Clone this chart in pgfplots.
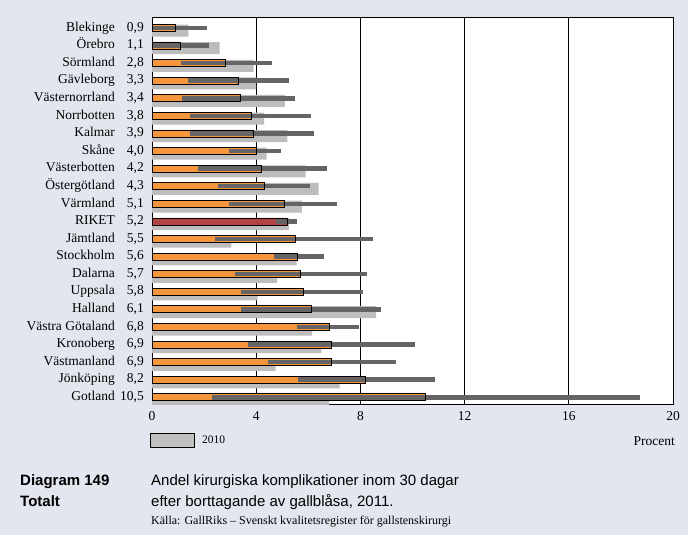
\documentclass[border=0pt]{standalone}
\usepackage{fontspec}
\setmainfont{Liberation Serif}
\newfontfamily\arial{Liberation Sans}
\usepackage{pgfplots}
\usepackage{pgfplotstable}
\pgfplotsset{compat=1.18}
\definecolor{bg}{HTML}{E3E6EE}
\definecolor{orangebar}{HTML}{F5963C}
\definecolor{riket}{HTML}{B34342}
\definecolor{gray10}{HTML}{BDBDBD}
\definecolor{cigray}{HTML}{666464}
\definecolor{leggray}{HTML}{C0C0C0}

\pgfplotstableread{
i val g lo hi
0 0.9 1.4 0.0 2.1
1 1.1 2.6 0.0 2.2
2 2.8 3.9 1.1 4.6
3 3.3 4.0 1.4 5.25
4 3.4 5.1 1.15 5.5
5 3.8 4.3 1.45 6.1
6 3.9 5.2 1.45 6.2
7 4.0 4.4 2.95 4.95
8 4.2 5.9 1.75 6.7
9 4.3 6.4 2.55 6.05
10 5.1 5.75 2.95 7.1
11 5.2 5.25 4.75 5.55
12 5.5 3.05 2.4 8.5
13 5.6 5.55 4.7 6.6
14 5.7 4.8 3.2 8.25
15 5.8 4.05 3.4 8.1
16 6.1 8.6 3.4 8.8
17 6.8 6.15 5.55 7.95
18 6.9 6.5 3.7 10.1
19 6.9 4.75 4.45 9.35
20 8.2 7.2 5.6 10.85
21 10.5 6.8 2.3 18.75
}\data

\newcommand{\lab}[2]{\strut#1\makebox[29bp][r]{#2}}

\begin{document}
\begin{tikzpicture}
\useasboundingbox (0bp,0bp) rectangle (688bp,535bp);
\fill[bg] (0bp,0bp) rectangle (688bp,535bp);
\begin{axis}[
  at={(152bp,131bp)}, anchor=south west,
  width=521bp, height=387bp, scale only axis,
  xmin=0, xmax=20, ymin=-0.62, ymax=21.38, y dir=reverse,
  axis background/.style={fill=white},
  axis line style={line width=0.9bp, black},
  xtick={0,4,8,12,16,20},
  ytick={0,...,21},
  yticklabels={
    {\lab{Blekinge}{0,9}},
    {\lab{Örebro}{1,1}},
    {\lab{Sörmland}{2,8}},
    {\lab{Gävleborg}{3,3}},
    {\lab{Västernorrland}{3,4}},
    {\lab{Norrbotten}{3,8}},
    {\lab{Kalmar}{3,9}},
    {\lab{Skåne}{4,0}},
    {\lab{Västerbotten}{4,2}},
    {\lab{Östergötland}{4,3}},
    {\lab{Värmland}{5,1}},
    {\lab{RIKET}{5,2}},
    {\lab{Jämtland}{5,5}},
    {\lab{Stockholm}{5,6}},
    {\lab{Dalarna}{5,7}},
    {\lab{Uppsala}{5,8}},
    {\lab{Halland}{6,1}},
    {\lab{Västra Götaland}{6,8}},
    {\lab{Kronoberg}{6,9}},
    {\lab{Västmanland}{6,9}},
    {\lab{Jönköping}{8,2}},
    {\lab{Gotland}{10,5}}
  },
  major tick length=0pt,
  xmajorgrids,
  grid style={black, line width=0.9bp},
  tick label style={font=\fontsize{13.5bp}{16bp}\selectfont},
  yticklabel style={anchor=east, inner sep=0pt, xshift=-8bp},
  xticklabel style={anchor=north, inner sep=0pt, yshift=-7bp},
  /pgf/number format/assume math mode=true,
]
\addplot[xbar, bar width=12bp, bar shift=-2.7bp, fill=gray10, draw=none] table[x=g, y=i] {\data};
\addplot[xbar, bar width=7bp, bar shift=0pt, fill=orangebar, draw=none] table[x=val, y=i] {\data};
\addplot[xbar, bar width=7bp, bar shift=0pt, fill=riket, draw=none] coordinates {(5.2,11)};
\addplot[draw=none, mark=none, forget plot,
  error bars/.cd, x dir=both, x explicit, error mark=none,
  error bar style={draw=cigray, line width=4.5bp, solid}]
  table[x=val, y=i, x error plus expr=\thisrow{hi}-\thisrow{val}, x error minus expr=\thisrow{val}-\thisrow{lo}] {\data};
\addplot[xbar, bar width=7bp, bar shift=0pt, fill=none, draw=black, line width=0.8bp] table[x=val, y=i] {\data};
\end{axis}
\draw[fill=leggray, line width=0.8bp] (150bp,88bp) rectangle (194bp,102bp);
\node[anchor=west, inner sep=0pt, font=\fontsize{11.5bp}{14bp}\selectfont] at (202bp,95bp) {2010};
\node[anchor=east, inner sep=0pt, font=\fontsize{13.5bp}{16bp}\selectfont] at (675bp,94bp) {Procent};
\node[anchor=base west, inner sep=0pt, font=\arial\bfseries\fontsize{15bp}{18bp}\selectfont] at (20bp,49bp) {Diagram 149};
\node[anchor=base west, inner sep=0pt, font=\arial\bfseries\fontsize{15bp}{18bp}\selectfont] at (20bp,29bp) {Totalt};
\node[anchor=base west, inner sep=0pt, font=\arial\fontsize{15bp}{18bp}\selectfont] at (151bp,49bp) {Andel kirurgiska komplikationer inom 30 dagar};
\node[anchor=base west, inner sep=0pt, font=\arial\fontsize{15bp}{18bp}\selectfont] at (151bp,29bp) {efter borttagande av gallblåsa, 2011.};
\node[anchor=base west, inner sep=0pt, font=\fontsize{12bp}{14bp}\selectfont] at (151bp,11bp) {Källa: GallRiks – Svenskt kvalitetsregister för gallstenskirurgi};
\end{tikzpicture}
\end{document}
